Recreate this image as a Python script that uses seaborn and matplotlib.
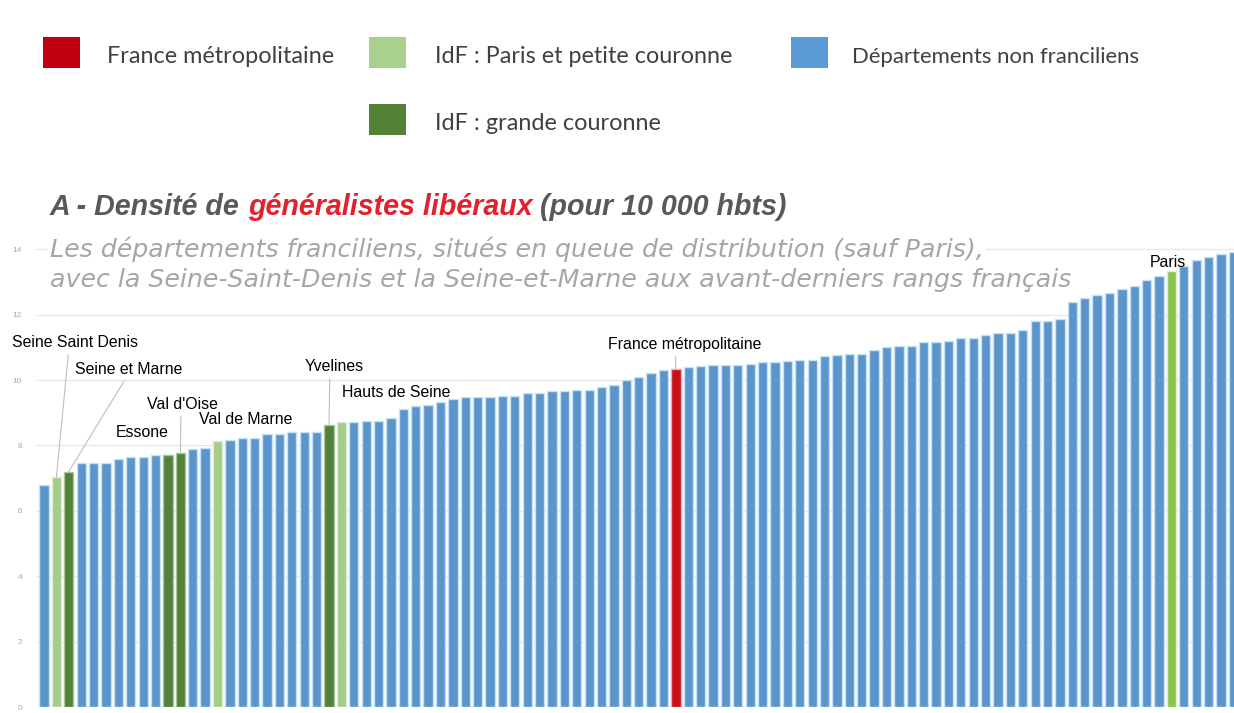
import matplotlib
matplotlib.use("Agg")
import matplotlib.pyplot as plt
from matplotlib.patches import Rectangle
from matplotlib.colors import to_hex
import pandas as pd
import seaborn as sns

# ---------------- data ----------------
densite = [
    6.78, 7.03, 7.20, 7.45, 7.45, 7.47, 7.57, 7.65, 7.65, 7.70,
    7.70, 7.78, 7.90, 7.93, 8.13, 8.16, 8.23, 8.23, 8.34, 8.34,
    8.40, 8.40, 8.42, 8.62, 8.71, 8.71, 8.75, 8.75, 8.83, 9.11,
    9.19, 9.24, 9.33, 9.42, 9.47, 9.47, 9.49, 9.51, 9.51, 9.60,
    9.60, 9.65, 9.67, 9.70, 9.70, 9.80, 9.85, 10.00, 10.10, 10.20,
    10.30, 10.34, 10.39, 10.42, 10.47, 10.47, 10.47, 10.49, 10.55, 10.55,
    10.57, 10.60, 10.60, 10.72, 10.77, 10.80, 10.80, 10.93, 11.00, 11.03,
    11.03, 11.17, 11.17, 11.19, 11.27, 11.27, 11.37, 11.45, 11.45, 11.52,
    11.80, 11.80, 11.86, 12.40, 12.52, 12.60, 12.65, 12.78, 12.88, 13.05,
    13.18, 13.34, 13.50, 13.67, 13.75, 13.85, 13.90,
]
# B = département non francilien, P = IdF Paris et petite couronne,
# G = IdF grande couronne, F = France métropolitaine
groupes = list(
    "BPGBBBBBBBGGBBPBBBBBBBBGP"
    "BBBBBBBBBBBBBBBBBBBBBBBBBB"
    "F"
    "BBBBBBBBBBBBBBBBBBBBBBBBBBBBBBBBBBBBBBB"
    "PBBBBB"
)
rangs = list(range(len(densite)))

noms_legende = ["France métropolitaine", "IdF : Paris et petite couronne",
                "Départements non franciliens", "IdF : grande couronne"]
annotations = [  # (label, rank index)
    ("Seine Saint Denis", 1), ("Seine et Marne", 2), ("Essone", 10),
    ("Val d'Oise", 11), ("Val de Marne", 14), ("Yvelines", 23),
    ("Hauts de Seine", 24), ("France métropolitaine", 51), ("Paris", 91),
]
yticks = [0, 2, 4, 6, 8, 10, 12, 14]

# ---------------- styles ----------------
palette = {"B": "#5b95cc", "P": "#a5cc88", "G": "#53803a", "F": "#c8101c"}
halo = {"B": "#c6e3f6", "P": "#dcefcd", "G": "#a9c59a", "F": "#f2a9a9"}
paris_col = "#8cc450"

W, H = 1234, 713
sns.set_theme(style="white")
plt.rcParams["font.family"] = ["Liberation Sans", "DejaVu Sans"]

fig = plt.figure(figsize=(W / 100, H / 100), dpi=100)
ax = fig.add_axes([36 / W, 6 / H, 1198 / W, 477.4 / H])

df = pd.DataFrame({"rang": rangs, "densite": densite, "groupe": groupes})
sns.barplot(data=df, x="rang", y="densite", hue="groupe", palette=palette,
            dodge=False, legend=False, width=0.75, saturation=1, ax=ax)

# halo edges like the blurry original
inv = {to_hex(v): k for k, v in palette.items()}
for p in ax.patches:
    k = inv.get(to_hex(p.get_facecolor()))
    if k:
        p.set_edgecolor(halo[k])
        p.set_linewidth(1.0)
# Paris bar slightly brighter green
for p in ax.patches:
    cx = p.get_x() + p.get_width() / 2
    if abs(cx - 91) < 0.3:
        p.set_facecolor(paris_col)

ax.set_xlim(-0.65, 96.05)
ax.set_ylim(0, 14.6)
ax.set_yticks(yticks)
ax.set_yticklabels([str(t) for t in yticks])
ax.set_xticks([])
ax.set_xlabel("")
ax.set_ylabel("")
ax.yaxis.grid(True, color="#e6e6e6", lw=0.9)
ax.set_axisbelow(True)
ax.tick_params(axis="y", length=0, pad=10, labelsize=6, labelcolor="#a8a8a8")
sns.despine(ax=ax, left=True, bottom=True)

renderer = fig.canvas.get_renderer()


def tw(s, size, **kw):
    t = fig.text(0, 0, s, fontsize=size, **kw)
    w = t.get_window_extent(renderer).width
    t.remove()
    return w


def fit(s, width, **kw):
    return 20 * width / tw(s, 20, **kw)


def ftext(x, y, s, **kw):
    return fig.text(x / W, 1 - y / H, s, ha="left", va="baseline", **kw)


# ---------------- legend ----------------
leg_items = [  # (label, colour, square x, row y-top, text x, width)
    (noms_legende[0], "#c00010", 43, 37, 107, 228),
    (noms_legende[1], "#a9d18e", 369, 37, 435, 298),
    (noms_legende[2], "#5b9bd5", 791, 37, 852, 288),
    (noms_legende[3], "#548235", 369, 104, 435, 227),
]
lfam = ["Lato", "DejaVu Sans"]
for lab, col, sx, sy, tx, w in leg_items:
    fig.add_artist(Rectangle((sx / W, 1 - (sy + 31) / H), 37 / W, 31 / H,
                             transform=fig.transFigure, facecolor=col,
                             edgecolor="none"))
    ftext(tx, sy + 26, lab, fontsize=fit(lab, w, family=lfam),
          color="#404040", family=lfam)

# ---------------- title ----------------
tkw = dict(fontweight="bold", style="italic")
p1, p2, p3 = "A - Densité de ", "généralistes libéraux", " (pour 10 000 hbts)"
ts = fit(p1 + p2 + p3, 737, **tkw)
x1 = 50
x2 = x1 + tw("A - Densité de x", ts, **tkw) - tw("x", ts, **tkw)
x3 = x2 + tw(p2 + "x", ts, **tkw) - tw("x", ts, **tkw)
ftext(x1, 215, p1, fontsize=ts, color="#595959", **tkw)
ftext(x2, 215, p2, fontsize=ts, color="#e3202b", **tkw)
ftext(x3, 215, p3, fontsize=ts, color="#595959", **tkw)

# ---------------- subtitle ----------------
s1 = "Les départements franciliens, situés en queue de distribution (sauf Paris),"
s2 = "avec la Seine-Saint-Denis et la Seine-et-Marne aux avant-derniers rangs français"
skw = dict(style="italic", family=["DejaVu Sans"])
ss = fit(s2, 1025, **skw)
ftext(50, 257, s1, fontsize=ss, color="#a6a6a6",
      bbox=dict(facecolor="white", edgecolor="none", pad=1.5), **skw)
ftext(50, 287, s2, fontsize=ss, color="#a6a6a6", **skw)

# ---------------- annotations ----------------
ann_pos = {  # label: (text x px, baseline y px, leader relpos x or None)
    "Seine Saint Denis": (12, 347, 0.45),
    "Seine et Marne": (75, 374, 0.48),
    "Essone": (116, 437, None),
    "Val d'Oise": (147, 409, 0.48),
    "Val de Marne": (199, 424, None),
    "Yvelines": (305, 371, 0.42),
    "Hauts de Seine": (342, 397, None),
    "France métropolitaine": (608, 349, 0.44),
    "Paris": (1150, 267, None),
}
asize = fit("Seine Saint Denis", 126)
for lab, i in annotations:
    x, y, rp = ann_pos[lab]
    kw = dict(xy=(i, densite[i]), xycoords="data",
              xytext=(x, H - y), textcoords="figure pixels",
              ha="left", va="baseline", fontsize=asize, color="black",
              annotation_clip=False)
    if rp is not None:
        kw["arrowprops"] = dict(arrowstyle="-", color="#bdbdbd", lw=0.8,
                                relpos=(rp, 0), shrinkA=1, shrinkB=0)
    ax.annotate(lab, **kw)

fig.savefig("out.png", dpi=100)
